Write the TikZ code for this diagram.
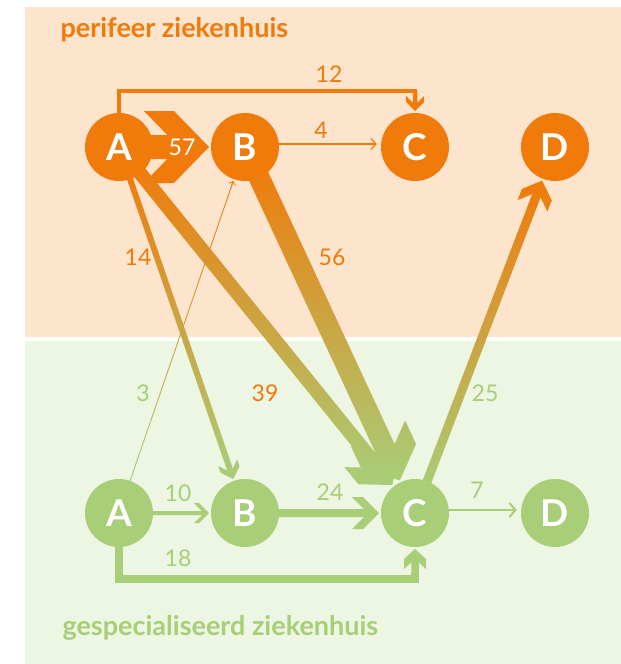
\documentclass[tikz,border=0pt]{standalone}
\usepackage{fontspec}
\setmainfont{Lato}
\usetikzlibrary{calc,arrows.meta}

\definecolor{orng}{RGB}{240,122,10}
\definecolor{grn}{RGB}{168,206,120}
\definecolor{gold}{RGB}{214,155,48}
\definecolor{bgor}{RGB}{253,228,205}
\definecolor{bggr}{RGB}{237,245,227}

\pgfdeclarelayer{panel}
\pgfdeclarelayer{flows}
\pgfsetlayers{panel,flows,main}

\tikzset{
  hosp/.style={circle, fill=#1, minimum size=68pt, inner sep=0pt, text=white,
    font=\bfseries\fontsize{37}{37}\selectfont},
  numlbl/.style={font=\fontsize{23}{23}\selectfont, text=#1},
  title/.style={anchor=base west, font=\bfseries\fontsize{27}{27}\selectfont, text=#1},
  mixed/.style={top color=orng, middle color=gold, bottom color=grn},
}

% fat arrow: [start offset]{style}{from}{to}{width}{head half width}{head length}{barb}
\newcommand\flow[8][20pt]{%
  \coordinate (fs) at ($(#3.center)!#1!(#4.center)$);
  \coordinate (fe) at ($(#4.center)!36pt!(#3.center)$);
  \pgfmathsetlengthmacro\fw{#5/2}%
  \pgfmathsetlengthmacro\fn{#7*#5/(2*#6)+#8}%
  \pgfmathsetlengthmacro\fb{#7+#8}%
  \coordinate (fn) at ($(fe)!\fn!(fs)$);
  \coordinate (fb) at ($(fe)!\fb!(fs)$);
  \coordinate (ff) at ($(fe)!#7pt!(fs)$);
  \path[#2] ($(fs)!\fw!-90:(fe)$) -- ($(fn)!\fw!90:(fs)$)
    -- ($(fb)!#6pt!90:(fs)$) -- ($(ff)!#6pt!90:(fs)$) -- (fe)
    -- ($(ff)!#6pt!-90:(fs)$) -- ($(fb)!#6pt!-90:(fs)$)
    -- ($(fn)!\fw!-90:(fs)$) -- ($(fs)!\fw!90:(fe)$) -- cycle;
}

\begin{document}
\begin{tikzpicture}[x=1pt, y=-1pt]
  \useasboundingbox (0,0) rectangle (621,664);
  \begin{pgfonlayer}{panel}
    \fill[bgor] (25,7) rectangle (621,337);
    \fill[bggr] (25,341) rectangle (621,664);
  \end{pgfonlayer}

  % hospitals
  \node[hosp=orng] (At) at (119,147) {A};
  \node[hosp=orng] (Bt) at (245,147) {B};
  \node[hosp=orng] (Ct) at (415,147) {C};
  \node[hosp=orng] (Dt) at (555,147) {D};
  \node[hosp=grn] (Ab) at (119,513) {A};
  \node[hosp=grn] (Bb) at (245,513) {B};
  \node[hosp=grn] (Cb) at (415,513) {C};
  \node[hosp=grn] (Db) at (555,513) {D};

  % flows
  \begin{pgfonlayer}{flows}
    \coordinate (k12) at ($(Ct.center)+(0,-56)$);
    \draw[orng, line width=4.5pt] (At.center) |- (k12) -- ++(0,6);
    \flow[0pt]{fill=orng}{k12}{Ct}{4.5}{9}{9}{6}
    \coordinate (k18) at ($(Cb.center)+(0,66)$);
    \draw[grn, line width=7.5pt] (Ab.center) |- (k18) -- ++(0,-6);
    \flow[0pt]{fill=grn}{k18}{Cb}{7.5}{11}{10}{10}

    \flow{fill=orng}{At}{Bt}{24}{36}{35}{30}
    \flow{mixed}{At}{Bb}{6}{10}{10}{7}
    \flow{mixed}{At}{Cb}{14}{26}{22}{22}
    \flow{mixed}{Bt}{Cb}{21}{30}{26}{26}
    \flow{mixed}{Cb}{Dt}{9}{16}{15}{12}
    \flow{fill=grn}{Ab}{Bb}{4}{10}{10}{5}
    \flow{fill=grn}{Bb}{Cb}{8}{16}{16}{11}
    \draw[orng, line width=1.2pt, -{Straight Barb[length=5pt, width=11pt]}]
      ([yshift=3pt]Bt.east) -- ([yshift=3pt, xshift=-4pt]Ct.west);
    \draw[grn, line width=2pt, -{Straight Barb[length=6pt, width=14pt]}]
      ([yshift=3pt]Cb.east) -- ([yshift=3pt, xshift=-4pt]Db.west);
    \flow{mixed}{Ab}{Bt}{0.9}{0.5}{0.1}{0}
    \draw[orng, line width=0.8pt, -{Straight Barb[length=3pt, width=7pt]}]
      ($(fe)!6pt!(fs)$) -- (fe);
  \end{pgfonlayer}

  % labels
  \node[numlbl=orng] (l12) at (329,74) {12};
  \node[numlbl=orng] (l4) at (321,130) {4};
  \node[numlbl=white] (l57) at (182,147) {57};
  \node[numlbl=orng] (l14) at (138,257) {14};
  \node[numlbl=orng] (l56) at (332,257) {56};
  \node[numlbl=grn] (l3) at (143,393) {3};
  \node[numlbl=orng] (l39) at (265,393) {39};
  \node[numlbl=grn] (l25) at (485,393) {25};
  \node[numlbl=grn] (l10) at (178,493) {10};
  \node[numlbl=grn] (l24) at (330,492) {24};
  \node[numlbl=grn] (l7) at (477,490) {7};
  \node[numlbl=grn] (l18) at (178,558) {18};

  \node[title=orng] (tp) at (57,37) {perifeer ziekenhuis};
  \node[title=grn] (tg) at (59,635) {gespecialiseerd ziekenhuis};
\end{tikzpicture}
\end{document}
